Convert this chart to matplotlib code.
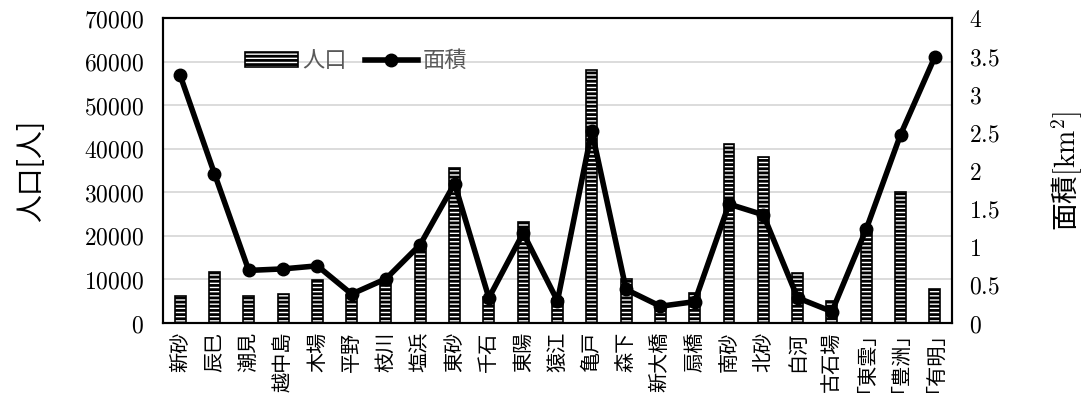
import numpy as np
import matplotlib
matplotlib.use("Agg")
import matplotlib.pyplot as plt
from matplotlib.ticker import FuncFormatter

plt.rcParams['font.family'] = ['Noto Sans CJK JP', 'DejaVu Sans']
plt.rcParams['mathtext.fontset'] = 'cm'
plt.rcParams['hatch.linewidth'] = 2.0
plt.rcParams['hatch.color'] = 'black'

areas = ['新砂', '辰巳', '潮見', '越中島', '木場', '平野', '枝川', '塩浜', '東砂', '千石',
         '東陽', '猿江', '亀戸', '森下', '新大橋', '扇橋', '南砂', '北砂', '白河', '古石場',
         '｢東雲｣', '｢豊洲｣', '｢有明｣']
population = [6200, 11700, 6200, 6600, 9800, 6500, 9500, 17500, 35500, 6000,
              23200, 5600, 58200, 10200, 3600, 6800, 41000, 38100, 11400, 5100,
              21000, 30000, 7800]
area_km2 = [3.25, 1.96, 0.69, 0.71, 0.75, 0.38, 0.58, 1.03, 1.83, 0.33,
            1.18, 0.29, 2.52, 0.44, 0.22, 0.28, 1.56, 1.42, 0.33, 0.15,
            1.23, 2.47, 3.49]

fig = plt.figure(figsize=(10.83, 4.12), dpi=100)
ax = fig.add_axes([0.1505, 0.216, 0.7285, 0.740])
ax2 = ax.twinx()

x = np.arange(len(areas))
bars = ax.bar(x, population, width=0.32, color='white', edgecolor='black',
              linewidth=1.2, hatch='----', label='人口', zorder=2)
line, = ax2.plot(x, area_km2, color='black', lw=4, marker='o', markersize=9,
                 label='面積', zorder=3)

ax.set_ylim(0, 70000)
ax.set_yticks(np.arange(0, 70001, 10000))
ax2.set_ylim(0, 4)
ax2.set_yticks(np.arange(0, 4.01, 0.5))
ax.set_xlim(-0.5, len(areas) - 0.5)

fmt = FuncFormatter(lambda v, p: '$%g$' % v)
ax.yaxis.set_major_formatter(fmt)
ax2.yaxis.set_major_formatter(fmt)

ax.grid(axis='y', color='#d9d9d9', lw=1.3, zorder=0)
ax.set_axisbelow(True)
ax.tick_params(axis='y', length=0, labelsize=17, pad=14)
ax2.tick_params(axis='y', length=0, labelsize=17, pad=12)
ax.set_xticks(x)
ax.set_xticklabels(areas, rotation=90, fontsize=14.5)
ax.tick_params(axis='x', length=0, pad=6)

for a in (ax, ax2):
    for s in a.spines.values():
        s.set_linewidth(1.5)
        s.set_color('black')

ax.set_ylabel('人口[人]', fontsize=20, labelpad=27)
ax2.set_ylabel('面積$[\\mathrm{km}^2]$', fontsize=20, labelpad=36)

leg = ax.legend([bars, line], ['人口', '面積'], loc='center left',
                bbox_to_anchor=(0.078, 0.86), ncol=2, frameon=False,
                fontsize=16, handlelength=2.4, columnspacing=0.8, handletextpad=0.2)
for t in leg.get_texts():
    t.set_color('#595959')

fig.savefig('out.png', dpi=100)
